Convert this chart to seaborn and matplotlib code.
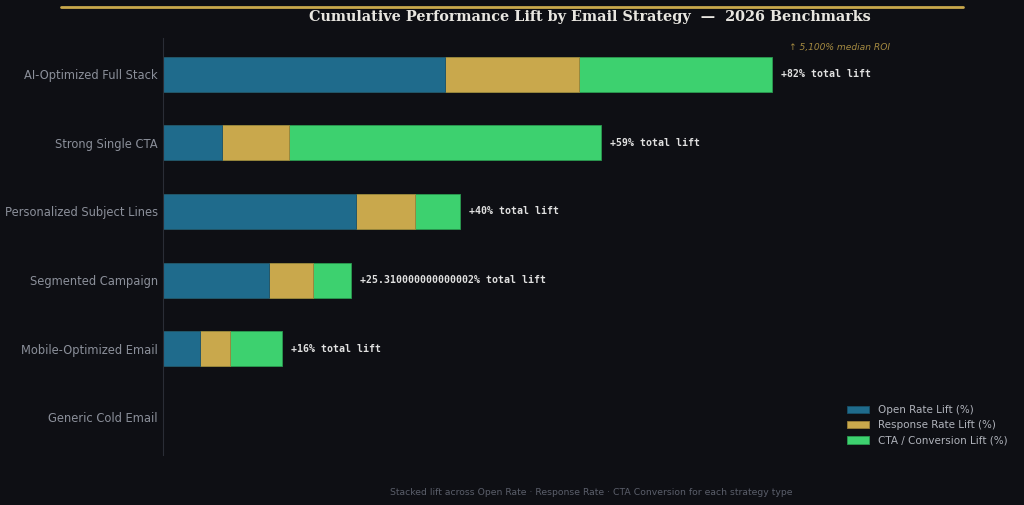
import numpy as np
import pandas as pd
import matplotlib.pyplot as plt
import matplotlib.lines as mlines
import seaborn as sns

# strategy data (lift in %)
strategies = ["AI-Optimized Full Stack", "Strong Single CTA", "Personalized Subject Lines",
              "Segmented Campaign", "Mobile-Optimized Email", "Generic Cold Email"]
open_lift = [38, 8, 26, 14.3, 5, 0]
response_lift = [18, 9, 8, 5.9, 4, 0]
cta_lift = [26, 42, 6, 5.11, 7, 0]

BG = "#0e0f14"
GOLD = "#c9a84c"
C_OPEN = "#1f6b8c"
C_RESP = "#c9a84c"
C_CTA = "#3dd16f"

totals = [o + r + c for o, r, c in zip(open_lift, response_lift, cta_lift)]
df = pd.DataFrame({"strategy": strategies, "open": open_lift,
                   "response": response_lift, "cta": cta_lift})
df["open_resp"] = df["open"] + df["response"]
df["total"] = totals

sns.set_style("dark")
plt.rcParams["font.family"] = ["DejaVu Sans"]

fig = plt.figure(figsize=(10.24, 5.05), dpi=100, facecolor=BG)
ax = fig.add_axes([0.159, 0.099, 0.834, 0.826])
ax.set_facecolor(BG)

# stacked bars: draw cumulative totals back to front
sns.barplot(data=df, x="total", y="strategy", color=C_CTA, width=0.51, saturation=1,
            edgecolor="#2a9a50", linewidth=0.6, ax=ax, label="CTA / Conversion Lift (%)")
sns.barplot(data=df, x="open_resp", y="strategy", color=C_RESP, width=0.51, saturation=1,
            edgecolor="#9a8038", linewidth=0.6, ax=ax, label="Response Rate Lift (%)")
sns.barplot(data=df, x="open", y="strategy", color=C_OPEN, width=0.51, saturation=1,
            edgecolor="#174f68", linewidth=0.6, ax=ax, label="Open Rate Lift (%)")

# total labels
for i, t in enumerate(totals):
    if t > 0:
        ax.text(t + 1.2, i, f"+{t}% total lift", va="center", ha="left",
                fontsize=7.1, fontweight="bold", family="DejaVu Sans Mono", color="#e0e0e0")

ax.set_xlim(0, 115)
ax.set_ylim(5.55, -0.53)
ax.set_xlabel("")
ax.set_ylabel("")
ax.set_xticks([])
ax.tick_params(axis="y", colors="#8b8f9a", labelsize=8.3, length=0, pad=3.5)
ax.grid(False)
for s in ["top", "right", "bottom"]:
    ax.spines[s].set_visible(False)
ax.spines["left"].set_color("#2a2d36")
ax.spines["left"].set_linewidth(0.8)

ax.set_title("Cumulative Performance Lift by Email Strategy  \u2014  2026 Benchmarks",
             family="DejaVu Serif", fontweight="bold", fontsize=10.4, color="#e8e6e0", pad=12)

ax.text(0.793, 0.977, "\u2191 5,100% median ROI", transform=ax.transAxes, ha="center",
        va="center", fontsize=6.6, style="italic", color=GOLD, alpha=0.8)

handles, labels = ax.get_legend_handles_labels()
order = [labels.index(l) for l in ["Open Rate Lift (%)", "Response Rate Lift (%)", "CTA / Conversion Lift (%)"]]
leg = ax.legend([handles[k] for k in order], [labels[k] for k in order], loc="lower right",
                fontsize=7.5, frameon=False, labelcolor="#b0b3bb", handlelength=2.2)

fig.add_artist(mlines.Line2D([0.06, 0.94], [0.986, 0.986], color=GOLD, lw=2,
                             transform=fig.transFigure))
fig.text(0.577, 0.02, "Stacked lift across Open Rate \u00b7 Response Rate \u00b7 CTA Conversion for each strategy type",
         ha="center", fontsize=6.7, color="#5a5e6a")

fig.savefig("out.png", dpi=100, facecolor=BG)
